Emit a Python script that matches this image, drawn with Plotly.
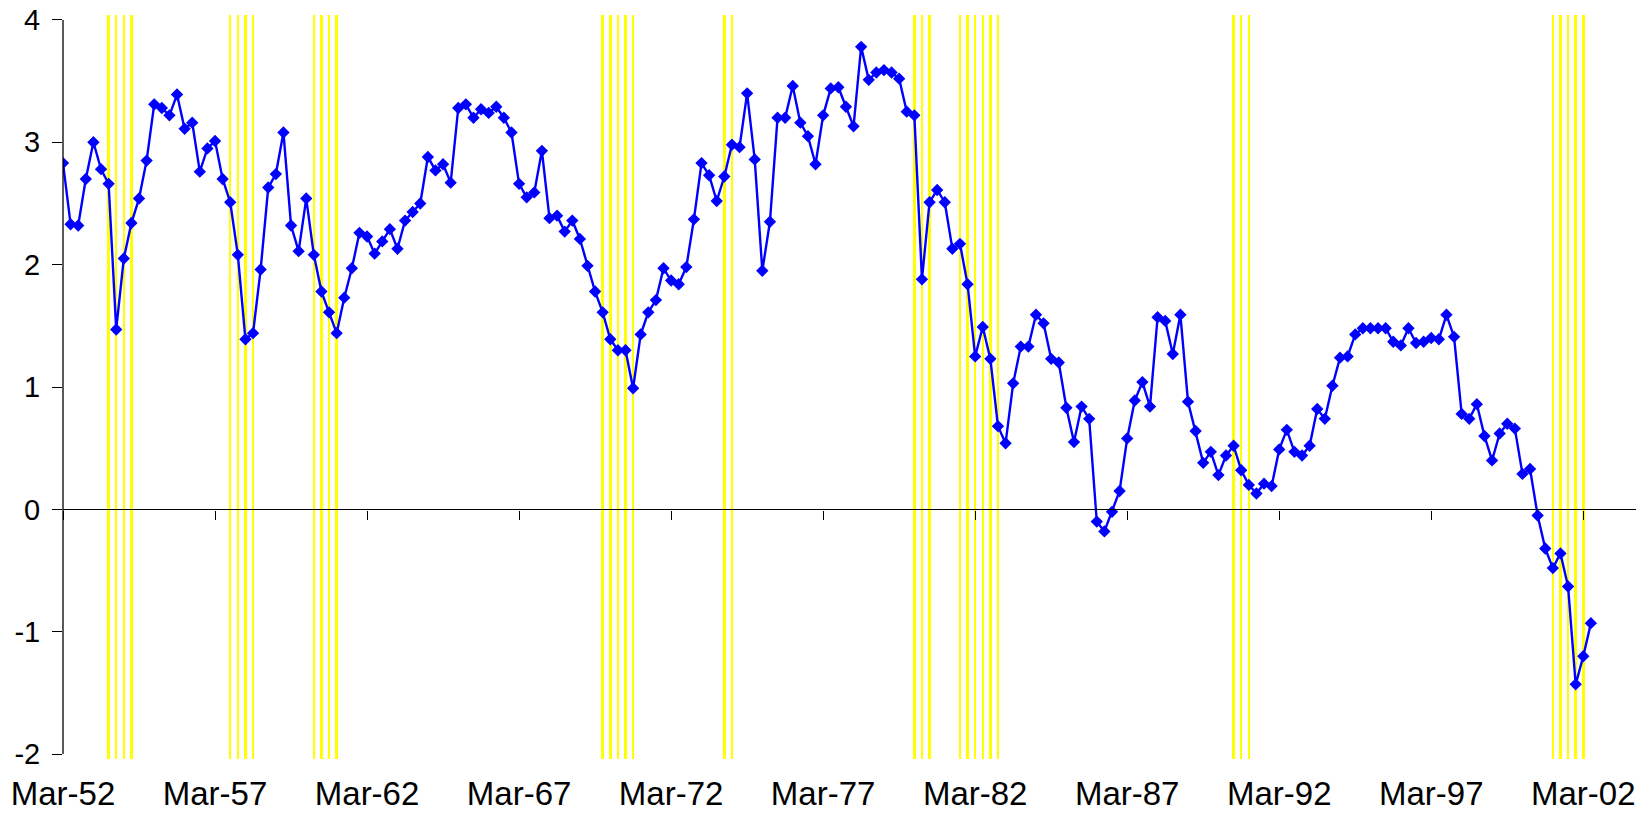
import plotly.graph_objects as go

# Quarterly series, Mar-52 .. Jun-02 (index 0 = Mar-52)
values = [
    2.83, 2.33, 2.32, 2.70, 3.00, 2.78, 2.66, 1.47, 2.05, 2.34,
    2.54, 2.85, 3.31, 3.28, 3.22, 3.39, 3.11, 3.16, 2.76, 2.95,
    3.01, 2.70, 2.51, 2.08, 1.39, 1.44, 1.96, 2.63, 2.74, 3.08,
    2.32, 2.11, 2.54, 2.08, 1.78, 1.61, 1.44, 1.73, 1.97, 2.26,
    2.23, 2.09, 2.19, 2.29, 2.13, 2.36, 2.43, 2.50, 2.88, 2.77,
    2.82, 2.67, 3.28, 3.31, 3.20, 3.27, 3.24, 3.29, 3.20, 3.08,
    2.66, 2.55, 2.59, 2.93, 2.38, 2.40, 2.27, 2.36, 2.21, 1.99,
    1.78, 1.61, 1.39, 1.30, 1.30, 0.99, 1.43, 1.61, 1.71, 1.97,
    1.87, 1.84, 1.98, 2.37, 2.83, 2.73, 2.52, 2.72, 2.98, 2.96,
    3.40, 2.86, 1.95, 2.35, 3.20, 3.20, 3.46, 3.16, 3.05, 2.82,
    3.22, 3.44, 3.45, 3.29, 3.13, 3.78, 3.51, 3.57, 3.59, 3.57,
    3.52, 3.25, 3.22, 1.88, 2.51, 2.61, 2.51, 2.13, 2.17, 1.84,
    1.25, 1.49, 1.23, 0.68, 0.54, 1.03, 1.33, 1.33, 1.59, 1.52,
    1.23, 1.20, 0.83, 0.55, 0.84, 0.74, -0.10, -0.18, -0.02, 0.15,
    0.58, 0.89, 1.04, 0.84, 1.57, 1.54, 1.27, 1.59, 0.88, 0.64,
    0.38, 0.47, 0.28, 0.44, 0.52, 0.32, 0.20, 0.13, 0.21, 0.19,
    0.49, 0.65, 0.47, 0.44, 0.52, 0.82, 0.74, 1.01, 1.24, 1.25,
    1.43, 1.48, 1.48, 1.48, 1.48, 1.37, 1.34, 1.48, 1.36, 1.37,
    1.40, 1.39, 1.59, 1.41, 0.78, 0.74, 0.86, 0.60, 0.40, 0.62,
    0.70, 0.66, 0.29, 0.33, -0.05, -0.32, -0.48, -0.36, -0.63, -1.43,
    -1.20, -0.93,
]
quarters = list(range(len(values)))

# Recession quarters (quarter index from Mar-52)
recession_quarters = [6, 7, 8, 9, 22, 23, 24, 25, 33, 34, 35, 36,
                      71, 72, 73, 74, 75, 87, 88, 112, 113, 114,
                      118, 119, 120, 121, 122, 123, 154, 155, 156,
                      196, 197, 198, 199, 200]

tick_positions = [0, 20, 40, 60, 80, 100, 120, 140, 160, 180, 200]
tick_labels = ["Mar-52", "Mar-57", "Mar-62", "Mar-67", "Mar-72", "Mar-77",
               "Mar-82", "Mar-87", "Mar-92", "Mar-97", "Mar-02"]
y_ticks = [-2, -1, 0, 1, 2, 3, 4]

Y_MIN, Y_MAX = -2.04, 4.04
X_MAX = 207.2
FONT = "Arial, 'Liberation Sans', sans-serif"

fig = go.Figure()

fig.add_trace(go.Bar(
    x=recession_quarters,
    y=[Y_MAX - Y_MIN] * len(recession_quarters),
    base=Y_MIN,
    width=0.33,
    marker=dict(color="#FFFF00", line=dict(width=0)),
    hoverinfo="skip",
    showlegend=False,
    xaxis="x", yaxis="y",
))

fig.add_trace(go.Scatter(
    x=quarters, y=values,
    mode="lines+markers",
    line=dict(color="#0000FF", width=2.4),
    marker=dict(symbol="diamond", size=9.5, color="#0000FF"),
    showlegend=False,
    xaxis="x2", yaxis="y",
))

zero_pos = (0 - Y_MIN) / (Y_MAX - Y_MIN)

# the page body adds an 8px offset, so margins are shifted by 8px
fig.update_layout(
    width=1644, height=815,
    margin=dict(l=55, r=14, t=7, b=64, autoexpand=False),
    paper_bgcolor="white", plot_bgcolor="white",
    bargap=0,
    font=dict(family=FONT, color="black"),
    xaxis=dict(
        range=[0, X_MAX], automargin=False,
        anchor="free", position=zero_pos,
        showline=True, linecolor="black", linewidth=1.3,
        ticks="outside", ticklen=9, tickcolor="black", tickwidth=1,
        tickvals=tick_positions, showticklabels=False,
        showgrid=False, zeroline=False, layer="above traces",
    ),
    xaxis2=dict(
        overlaying="x", matches="x", range=[0, X_MAX], automargin=False,
        anchor="y", side="bottom",
        showline=False, ticks="",
        tickvals=tick_positions, ticktext=tick_labels,
        tickfont=dict(size=33, family=FONT, color="black"),
        ticklabelstandoff=12, ticklabeloverflow="allow",
        showgrid=False, zeroline=False,
    ),
    yaxis=dict(
        range=[Y_MIN, Y_MAX], automargin=False,
        tickvals=y_ticks, ticktext=[str(v) for v in y_ticks],
        ticks="outside", ticklen=10, tickcolor="black", tickwidth=1,
        tickfont=dict(size=29, family=FONT, color="black"),
        ticklabelstandoff=6, ticklabeloverflow="allow",
        showline=False, showgrid=False, zeroline=False,
    ),
    shapes=[dict(
        type="line", xref="paper", yref="y",
        x0=0, x1=0, y0=min(y_ticks), y1=max(y_ticks),
        line=dict(color="black", width=1.3), layer="above",
    )],
)

fig.write_html("out.html")
